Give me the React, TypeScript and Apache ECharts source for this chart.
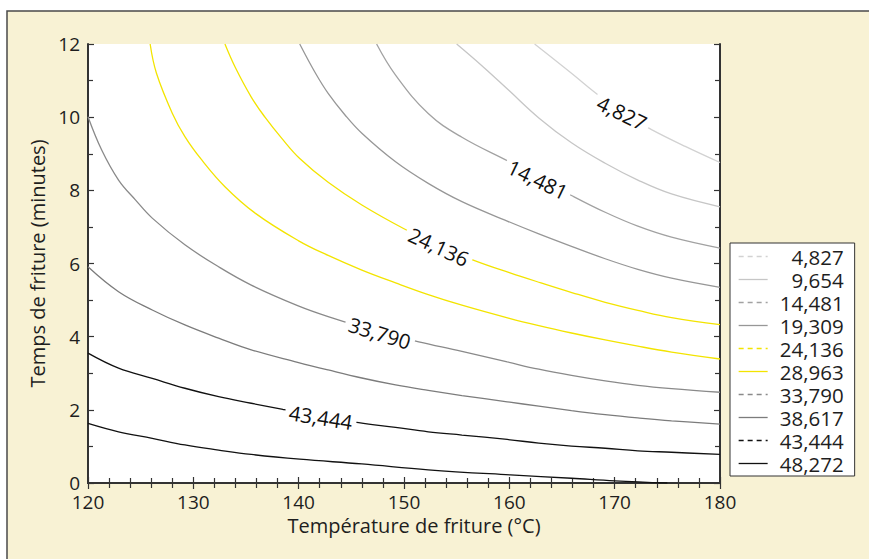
import React, { useEffect, useRef } from "react";
import * as echarts from "echarts";

// Contour levels (legend order)
const levels: string[] = [
  "4,827", "9,654", "14,481", "19,309", "24,136",
  "28,963", "33,790", "38,617", "43,444", "48,272",
];

// Contour lines: [température °C, temps min]
const c4827: [number, number][] = [
  [162.4, 12.0], [165.9, 11.2], [168.1, 10.68], [170.7, 10.12], [173.5, 9.66],
  [176.7, 9.2], [180, 8.76],
];
const c9654: [number, number][] = [
  [155.0, 12.0], [157.5, 11.38], [160.0, 10.72], [162.8, 9.98], [165.9, 9.3],
  [169.1, 8.74], [172.2, 8.28], [175.4, 7.9], [180, 7.55],
];
const c14481: [number, number][] = [
  [147.4, 12.0], [149.2, 11.15], [152.3, 10.1], [155.5, 9.45], [160.0, 8.78],
  [162.7, 8.36], [165.9, 7.86], [169.1, 7.4], [172.2, 7.02], [175.4, 6.72], [180, 6.42],
];
const c19309: [number, number][] = [
  [140.1, 12.0], [141.6, 11.2], [142.8, 10.65], [144.4, 10.06], [146.0, 9.56],
  [149.2, 8.78], [152.3, 8.19], [155.5, 7.69], [159.8, 7.16], [162.8, 6.81],
  [165.9, 6.47], [169.1, 6.13], [172.2, 5.84], [175.4, 5.6], [180, 5.35],
];
const c24136: [number, number][] = [
  [133.0, 12.0], [134.0, 11.35], [135.5, 10.55], [136.8, 10.0], [138.4, 9.42],
  [140.1, 8.87], [142.8, 8.22], [146.0, 7.6], [150.0, 6.95], [153.3, 6.48],
  [156.7, 6.08], [160.0, 5.75], [163.0, 5.47], [166.0, 5.2], [169.1, 4.94],
  [172.2, 4.72], [175.4, 4.52], [180, 4.33],
];
const c28963: [number, number][] = [
  [125.9, 12.0], [126.5, 11.2], [128.0, 10.11], [129.2, 9.47], [130.8, 8.83],
  [133.0, 8.1], [135.9, 7.37], [140.0, 6.62], [142.8, 6.22], [146.0, 5.82],
  [149.2, 5.47], [152.3, 5.15], [155.5, 4.86], [160.0, 4.5], [162.8, 4.3],
  [165.9, 4.1], [169.1, 3.91], [172.2, 3.74], [175.4, 3.58], [180, 3.39],
];
const c33790: [number, number][] = [
  [120, 10.01], [121.3, 9.1], [122.9, 8.28], [124.5, 7.74], [126.1, 7.24],
  [129.2, 6.51], [132.4, 5.91], [135.5, 5.41], [139.9, 4.85], [142.8, 4.55],
  [147.7, 4.12], [151.4, 3.86], [155.5, 3.6], [159.8, 3.31], [162.8, 3.11],
  [165.9, 2.94], [169.1, 2.79], [172.2, 2.67], [175.4, 2.58], [180, 2.48],
];
const c38617: [number, number][] = [
  [120, 5.91], [122.9, 5.23], [126.1, 4.73], [129.2, 4.32], [132.4, 3.96],
  [135.5, 3.64], [139.9, 3.3], [142.8, 3.09], [146.0, 2.87], [149.2, 2.68],
  [152.3, 2.53], [155.5, 2.39], [159.8, 2.22], [162.8, 2.1], [165.9, 1.98],
  [169.1, 1.87], [172.2, 1.78], [175.4, 1.7], [180, 1.61],
];
const c43444: [number, number][] = [
  [120, 3.55], [122.9, 3.14], [126.1, 2.86], [129.2, 2.59], [132.4, 2.36],
  [135.5, 2.18], [138.5, 2.01], [142.1, 1.82], [145.7, 1.65], [149.2, 1.52],
  [152.3, 1.4], [155.5, 1.31], [159.8, 1.19], [162.8, 1.09], [165.9, 1.01],
  [169.1, 0.95], [172.2, 0.88], [175.4, 0.84], [180, 0.78],
];
const c48272: [number, number][] = [
  [120, 1.63], [122.9, 1.4], [126.1, 1.22], [129.2, 1.04], [132.4, 0.9],
  [135.5, 0.78], [140.1, 0.65], [146.0, 0.52], [152.3, 0.36], [160.1, 0.22],
  [165.9, 0.13], [170.0, 0.06], [175.0, 0.0],
];

const contours = [c4827, c9654, c14481, c19309, c24136, c28963, c33790, c38617, c43444, c48272];

// Inline contour labels
const labelTexts: string[] = ["4,827", "14,481", "24,136", "33,790", "43,444"];
const labelAnchors: [number, number][] = [
  [170.7, 10.12], [162.7, 8.3], [153.3, 6.46], [147.7, 4.1], [142.1, 1.8],
];

// Axis ticks
const xTicks = [120, 130, 140, 150, 160, 170, 180];
const yTicks = [0, 2, 4, 6, 8, 10, 12];

// ---- styles ----
const FONT = "'Open Sans', 'Noto Sans', sans-serif";
const TEXT = "#1e1e1e";
const lineColors = [
  "#d2d2d2", "#c6c6c6", "#a2a2a2", "#979797", "#f3e400",
  "#f3e400", "#8a8a8a", "#7c7c7c", "#111111", "#111111",
];
const legendDashed = [true, false, true, false, true, false, true, false, true, false];
const labelAngles = [-26, -26, -25, -17, -9];

export default function App() {
  const ref = useRef<HTMLDivElement>(null);

  useEffect(() => {
    if (!ref.current) return;
    const chart = echarts.init(ref.current, undefined, { renderer: "svg" });

    const axisLine = { show: true, lineStyle: { color: "#333", width: 2 } };
    const tick = { show: true, inside: true, length: 6, lineStyle: { color: "#333", width: 1.2 } };
    const minor = (n: number) => ({ show: true, splitNumber: n, length: 5, lineStyle: { color: "#333", width: 1.2 } });

    const lineSeries = levels.map((name, i) => ({
      type: "line",
      name,
      data: contours[i],
      smooth: 0.4,
      symbol: "none",
      clip: true,
      lineStyle: { color: lineColors[i], width: 1.3 },
      itemStyle: { color: lineColors[i] },
      z: 2,
    }));

    const option: any = {
      animation: false,
      backgroundColor: "#fff",
      graphic: [
        {
          type: "rect",
          z: -10,
          shape: { x: 7, y: 11, width: 900, height: 600 },
          style: { fill: "#f8f2d4", stroke: "#4a4a4a", lineWidth: 1.5 },
          silent: true,
        },
      ],
      grid: {
        left: 88, top: 44, width: 632, height: 439,
        show: true, backgroundColor: "#fff", borderWidth: 0,
      },
      xAxis: [
        {
          type: "value", min: xTicks[0], max: xTicks[xTicks.length - 1], interval: xTicks[1] - xTicks[0],
          position: "bottom",
          axisLine, axisTick: tick, minorTick: minor(5), splitLine: { show: false },
          axisLabel: { fontSize: 19, color: TEXT, fontFamily: FONT, margin: 10, lineHeight: 17 },
          name: "Température de friture (°C)", nameLocation: "middle", nameGap: 32,
          nameTextStyle: { fontSize: 20, color: TEXT, fontFamily: FONT, padding: [0, 0, 0, 20] },
        },
        {
          type: "value", min: xTicks[0], max: xTicks[xTicks.length - 1], interval: xTicks[1] - xTicks[0],
          position: "top",
          axisLine, axisTick: tick, minorTick: minor(5), splitLine: { show: false },
          axisLabel: { show: false },
        },
      ],
      yAxis: [
        {
          type: "value", min: yTicks[0], max: yTicks[yTicks.length - 1], interval: yTicks[1] - yTicks[0],
          position: "left",
          axisLine, axisTick: tick, minorTick: minor(2), splitLine: { show: false },
          axisLabel: { fontSize: 19, color: TEXT, fontFamily: FONT, margin: 8, lineHeight: 17 },
          name: "Temps de friture (minutes)", nameLocation: "middle", nameGap: 33,
          nameTextStyle: { fontSize: 20, color: TEXT, fontFamily: FONT },
        },
        {
          type: "value", min: yTicks[0], max: yTicks[yTicks.length - 1], interval: yTicks[1] - yTicks[0],
          position: "right",
          axisLine, axisTick: tick, minorTick: minor(2), splitLine: { show: false },
          axisLabel: { show: false },
        },
      ],
      legend: {
        orient: "vertical",
        left: 730, top: 243,
        backgroundColor: "#fff",
        borderColor: "#333", borderWidth: 1, borderRadius: 0,
        padding: [3, 11, 2, 8],
        itemGap: 2, itemWidth: 29, itemHeight: 14,
        selectedMode: false,
        itemStyle: { color: "rgba(0,0,0,0)", borderColor: "rgba(0,0,0,0)", borderWidth: 0, opacity: 0 },
        data: levels.map((name, i) => ({
          name,
          lineStyle: legendDashed[i] ? { type: [5, 4], width: 1.3 } : { type: "solid", width: 1.3 },
        })),
        formatter: (name: string) => `{a|${name}}`,
        textStyle: {
          color: TEXT, fontFamily: FONT, fontSize: 20.5, lineHeight: 21,
          rich: { a: { width: 71, align: "right", fontSize: 20.5, fontFamily: FONT, color: TEXT, lineHeight: 21 } },
        },
      },
      series: [
        ...lineSeries,
        {
          type: "scatter",
          name: "labels",
          silent: true,
          symbolSize: 1,
          itemStyle: { color: "#fff", opacity: 1 },
          z: 5,
          data: labelAnchors.map((p, i) => ({
            value: p,
            label: { rotate: labelAngles[i], formatter: labelTexts[i] },
          })),
          label: {
            show: true, position: "inside",
            fontSize: 20.5, color: "#111", fontFamily: FONT, opacity: 1,
            backgroundColor: "#fff", padding: [0, 4],
          },
        },
      ],
    };

    chart.setOption(option);
    return () => chart.dispose();
  }, []);

  return (
    <div style={{ position: "absolute", left: 0, top: 0, width: 869, height: 559 }}>
      <div ref={ref} style={{ width: 869, height: 559 }} />
    </div>
  );
}
